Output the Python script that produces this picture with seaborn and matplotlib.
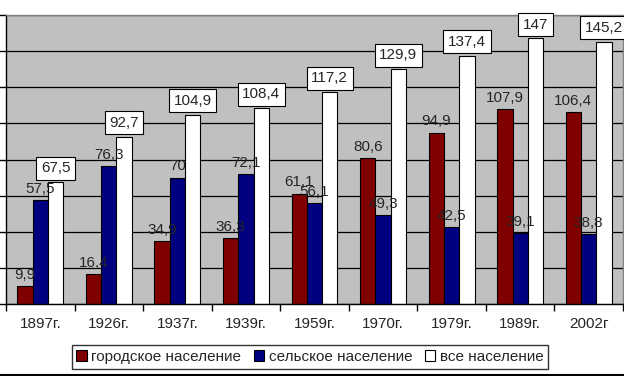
import pandas as pd
import seaborn as sns
import matplotlib.pyplot as plt
from matplotlib.lines import Line2D
from matplotlib.patches import Patch

# data
years = ['1897г.', '1926г.', '1937г.', '1939г.', '1959г.', '1970г.', '1979г.', '1989г.', '2002г']
urban = [9.9, 16.4, 34.9, 36.3, 61.1, 80.6, 94.9, 107.9, 106.4]
rural = [57.5, 76.3, 70, 72.1, 56.1, 49.3, 42.5, 39.1, 38.8]
total = [67.5, 92.7, 104.9, 108.4, 117.2, 129.9, 137.4, 147, 145.2]
series = ['городское население', 'сельское население', 'все население']
colors = ['#800000', '#000080', '#ffffff']

rows = []
for name, vals in zip(series, [urban, rural, total]):
    for y, v in zip(years, vals):
        rows.append((y, name, v))
df = pd.DataFrame(rows, columns=['year', 'group', 'value'])

sns.set_style('white')
plt.rcParams['font.family'] = ['Liberation Sans', 'DejaVu Sans']

fig = plt.figure(figsize=(6.24, 3.76), dpi=100)
ax = fig.add_axes([6 / 624, 72 / 376, 617 / 624, 289 / 376])
ax.set_facecolor('#c0c0c0')

sns.barplot(data=df, x='year', y='value', hue='group', hue_order=series,
            palette=colors, width=0.67, gap=0, edgecolor='black', linewidth=0.8,
            saturation=1, ax=ax, legend=False)

ax.set_ylim(0, 160)
ax.set_xlim(-0.5, len(years) - 0.5)
ax.set_yticks(range(0, 161, 20))
ax.set_yticklabels([])
ax.yaxis.grid(True, color='black', linewidth=0.9)
ax.set_axisbelow(True)
ax.set_xlabel('')
ax.set_ylabel('')

# ticks between categories on x axis
ax.set_xticks([i - 0.5 for i in range(len(years) + 1)], minor=False)
ax.set_xticklabels([])
ax.set_xticks(range(len(years)), minor=True)
ax.set_xticklabels(years, minor=True, fontsize=11)
ax.tick_params(axis='x', which='major', direction='out', length=5, width=1, color='black', bottom=True)
ax.tick_params(axis='x', which='minor', length=0, pad=9)
ax.tick_params(axis='y', direction='out', length=5, width=1, color='black', left=True)

for s in ['left', 'bottom']:
    ax.spines[s].set_color('black')
    ax.spines[s].set_linewidth(1)
for s in ['top', 'right']:
    ax.spines[s].set_color('#808080')
    ax.spines[s].set_linewidth(1)

def fmt(v):
    return ('%g' % v).replace('.', ',')

for cont, vals in zip(ax.containers[:2], [urban, rural]):
    ax.bar_label(cont, labels=[fmt(v) for v in vals], padding=3, fontsize=11)
ax.bar_label(ax.containers[2], labels=[fmt(v) for v in total], padding=5, fontsize=11,
             bbox=dict(boxstyle='square,pad=0.3', facecolor='white', edgecolor='black', linewidth=0.8))

handles = [Patch(facecolor=c, edgecolor='black', linewidth=0.8) for c in colors]
leg = fig.legend(handles, series, loc='center', bbox_to_anchor=(310 / 624, 1 - 357 / 376),
                 ncol=3, fontsize=11, frameon=True, fancybox=False, edgecolor='black',
                 handlelength=0.7, handleheight=0.7, handletextpad=0.3, columnspacing=0.8,
                 borderpad=0.3)
leg.get_frame().set_linewidth(1)

fig.add_artist(Line2D([0, 1], [1.5 / 376, 1.5 / 376], color='black', linewidth=1.5))

fig.savefig('out.png', dpi=100)
